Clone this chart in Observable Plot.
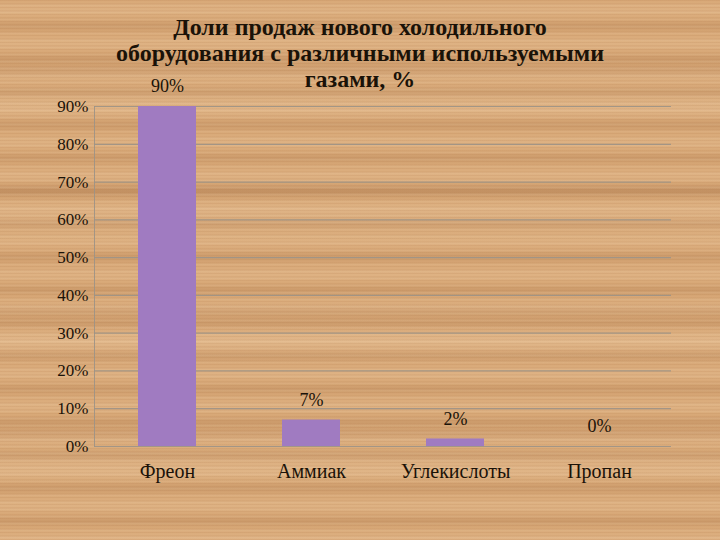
<!DOCTYPE html>
<html>
<head>
<meta charset="utf-8">
<script src="https://cdn.jsdelivr.net/npm/d3@7"></script>
<script src="https://cdn.jsdelivr.net/npm/@observablehq/plot@0.6"></script>
<style>
  html, body { margin: 0; padding: 0; }
  #wrap {
    position: relative; width: 720px; height: 540px; overflow: hidden;
    background-color: #d8a877;
    background-image:
      repeating-linear-gradient(180deg, rgba(150,90,45,0.18) 0px, rgba(150,90,45,0) 1px, rgba(150,90,45,0) 3px, rgba(150,90,45,0.14) 4px, rgba(255,235,205,0.12) 5px, rgba(150,90,45,0) 7px),
      repeating-linear-gradient(180deg, rgba(255,230,195,0.0) 0px, rgba(255,230,195,0.16) 11px, rgba(130,75,35,0.0) 19px, rgba(130,75,35,0.14) 26px, rgba(255,230,195,0.0) 33px),
      repeating-linear-gradient(180deg, rgba(120,65,30,0.0) 0px, rgba(120,65,30,0.0) 60px, rgba(120,65,30,0.12) 70px, rgba(120,65,30,0.0) 80px, rgba(255,235,205,0.12) 100px, rgba(120,65,30,0.0) 121px);
  }
  #title {
    position: absolute; left: 0; top: 14px; width: 720px; text-align: center;
    font-family: "Liberation Serif", serif; font-weight: bold; font-size: 24px;
    line-height: 26px; color: #1a1208;
  }
  #chart { position: absolute; left: 0; top: 0; }
</style>
</head>
<body>
<div id="wrap">
  <div id="chart"></div>
  <div id="title">Доли продаж нового холодильного<br>оборудования с различными используемыми<br>газами, %</div>
</div>
<script>
const categories = ["Фреон", "Аммиак", "Углекислоты", "Пропан"];
const values = [90, 7, 2, 0];
const yTicks = [0, 10, 20, 30, 40, 50, 60, 70, 80, 90];

const data = categories.map((c, i) => ({category: c, value: values[i]}));

const chart = Plot.plot({
  width: 720,
  height: 540,
  marginTop: 106,
  marginBottom: 94,
  marginLeft: 94,
  marginRight: 49,
  style: {background: "transparent", fontFamily: "'Liberation Serif', serif", color: "#1a1208", overflow: "visible"},
  x: {domain: categories, paddingInner: 0.6, paddingOuter: 0.3, label: null},
  y: {domain: [0, 90], ticks: yTicks, label: null},
  marks: [
    Plot.gridY(yTicks, {stroke: "#9c9286", strokeOpacity: 0.9, strokeWidth: 1.2}),
    Plot.frame({anchor: "left", stroke: "#9c9286", strokeOpacity: 0.9}),
    Plot.barY(data, {x: "category", y: "value", fill: "#a07bc1"}),
    Plot.text(data, {x: "category", y: "value", text: d => d.value + "%", dy: -20, lineAnchor: "middle", fontSize: 18, fill: "#1a1208"}),
    Plot.axisY({ticks: yTicks, tickSize: 0, tickPadding: 6, tickFormat: d => d + "%", fontSize: 17, label: null}),
    Plot.axisX({tickSize: 0, tickPadding: 17, fontSize: 20, label: null})
  ]
});
document.getElementById("chart").appendChild(chart);
</script>
</body>
</html>
